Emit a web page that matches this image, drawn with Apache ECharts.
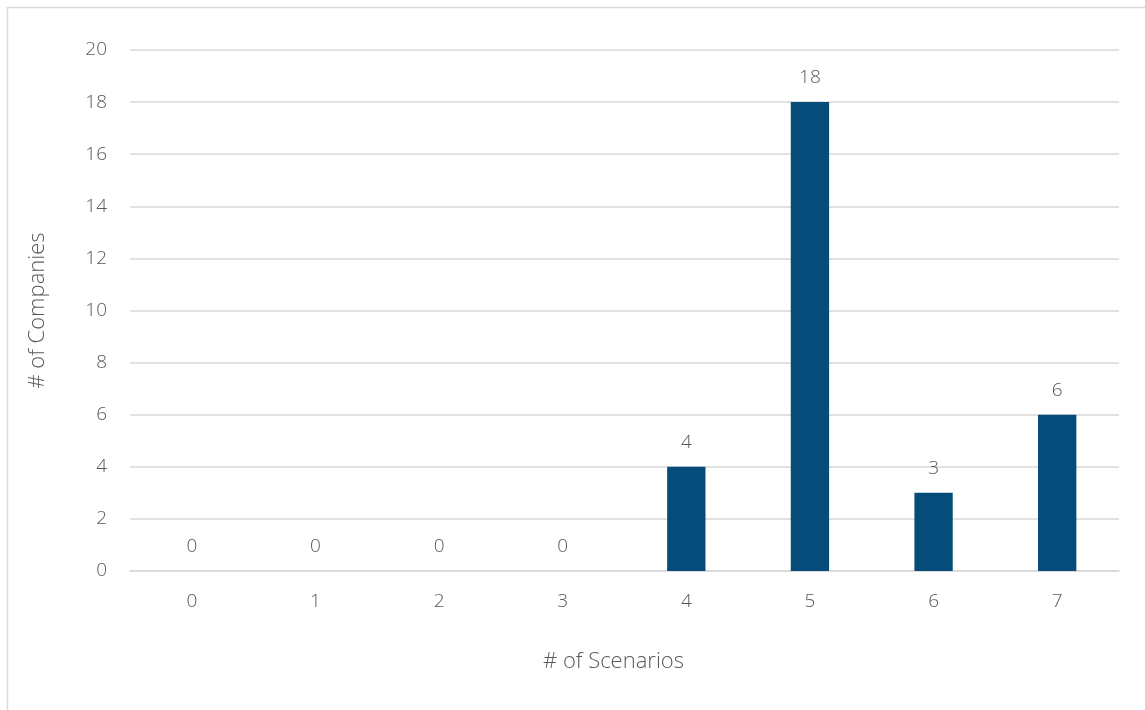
<!DOCTYPE html>
<html>
<head>
<meta charset="utf-8">
<script src="https://cdn.jsdelivr.net/npm/echarts@6/dist/echarts.min.js"></script>
<style>html,body{margin:0;padding:0;background:#fff}#c{width:1145px;height:710px}</style>
</head>
<body>
<div id="c"></div>
<script>
var categories = ['0','1','2','3','4','5','6','7'];
var companies = [0,0,0,0,4,18,3,6];
var yTicks = {min:0, max:20, interval:2};
var xTitle = '# of Scenarios';
var yTitle = '# of Companies';

var FONT = '"Open Sans", "Noto Sans", sans-serif';
var chart = echarts.init(document.getElementById('c'), null, {renderer:'canvas'});
chart.setOption({
  animation:false,
  backgroundColor:'#ffffff',
  graphic:[{type:'rect', shape:{x:7.5,y:7.5,width:1150,height:720}, style:{fill:'none', stroke:'#d9d9d9', lineWidth:1.5}, silent:true}],
  grid:{left:130, right:26, top:50, bottom:139},
  xAxis:{
    type:'category', data:categories,
    name:xTitle, nameLocation:'middle', nameGap:80,
    nameTextStyle:{fontFamily:FONT, fontSize:22, fontWeight:300, color:'#595959', padding:[0,22,0,0]},
    axisLine:{show:true, lineStyle:{color:'#d9d9d9', width:1.5}},
    axisTick:{show:false},
    axisLabel:{fontFamily:FONT, fontSize:19, fontWeight:300, color:'#595959', margin:21}
  },
  yAxis:{
    type:'value', min:yTicks.min, max:yTicks.max, interval:yTicks.interval,
    name:yTitle, nameLocation:'middle', nameGap:81,
    nameTextStyle:{fontFamily:FONT, fontSize:22, fontWeight:300, color:'#595959'},
    axisLine:{show:false}, axisTick:{show:false},
    axisLabel:{fontFamily:FONT, fontSize:19, fontWeight:300, color:'#595959', margin:23},
    splitLine:{lineStyle:{color:'#d9d9d9', width:1.5}}
  },
  series:[{
    type:'bar', data:companies, barWidth:'31%',
    itemStyle:{color:'#054c7b'},
    label:{show:true, position:'top', distance:15, fontFamily:FONT, fontSize:19, fontWeight:300, color:'#595959'}
  }]
});
</script>
</body>
</html>
